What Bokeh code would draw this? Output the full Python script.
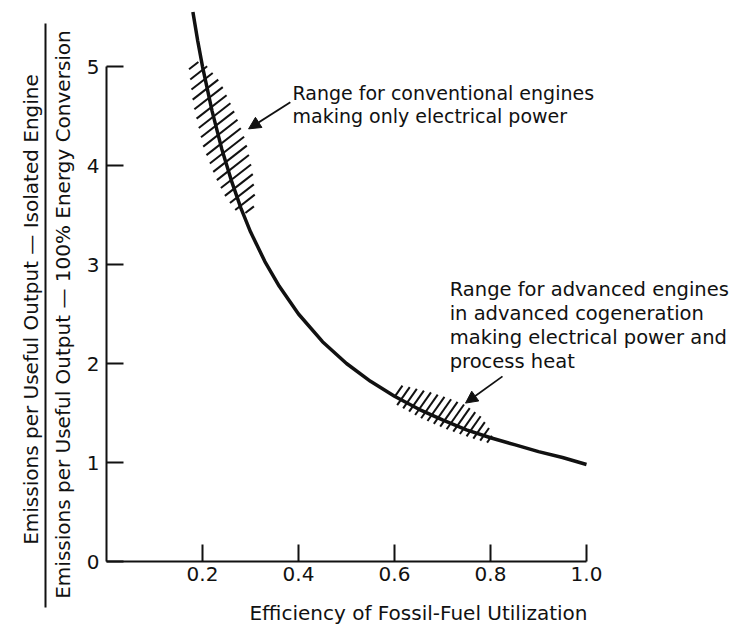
import numpy as np
from math import radians, sin, cos, pi
from bokeh.plotting import figure
from bokeh.layouts import row
from bokeh.models import Range1d, FixedTicker, NumeralTickFormatter, Arrow, NormalHead
from bokeh.core.properties import value
from bokeh.embed import file_html
from bokeh.resources import INLINE

# ---- data ----
curve_x = [0.18, 0.19, 0.20, 0.22, 0.24, 0.26, 0.28, 0.30, 0.33, 0.36, 0.40, 0.45,
           0.50, 0.55, 0.60, 0.65, 0.70, 0.75, 0.80, 0.85, 0.90, 0.95, 1.00]
curve_y = [5.55, 5.26, 5.00, 4.55, 4.17, 3.85, 3.57, 3.33, 3.03, 2.78, 2.50, 2.22,
           2.00, 1.82, 1.67, 1.54, 1.43, 1.33, 1.25, 1.18, 1.11, 1.05, 0.98]

# hatched band: conventional engines (polygon outline)
conv_x = [0.171, 0.181, 0.202, 0.227, 0.248, 0.273, 0.304, 0.310, 0.304, 0.290, 0.265, 0.2375, 0.200]
conv_y = [5.01, 4.61, 4.18, 3.88, 3.68, 3.52, 3.52, 3.65, 3.95, 4.25, 4.56, 4.84, 5.06]

# hatched band: advanced cogeneration (polygon outline)
adv_x = [0.602, 0.633, 0.675, 0.7125, 0.748, 0.779, 0.804, 0.800, 0.758, 0.706, 0.654, 0.602]
adv_y = [1.79, 1.76, 1.71, 1.65, 1.58, 1.47, 1.30, 1.19, 1.25, 1.34, 1.45, 1.59]

x_ticks = [0.2, 0.4, 0.6, 0.8, 1.0]
y_ticks = [0, 1, 2, 3, 4, 5]

note_conv = "Range for conventional engines\nmaking only electrical power"
note_adv = ("Range for advanced engines\nin advanced cogeneration\n"
            "making electrical power and\nprocess heat")
x_title = "Efficiency of Fossil-Fuel Utilization"
y_num = "Emissions per Useful Output \u2014 Isolated Engine"
y_den = "Emissions per Useful Output \u2014 100% Energy Conversion"

FONT = "DejaVu Sans"
INK = "#111111"

# ---- layout ----
LEFT_W = 78
X_END, Y_END = 1.30, 5.586
FW, FH = 624, 553
SX, SY = FW / X_END, FH / Y_END


def hatch(px_list, py_list, angle_deg, spacing):
    th = radians(angle_deg)
    px = np.array(px_list) * SX
    py = np.array(py_list) * SY
    u = -px * sin(th) + py * cos(th)
    v = px * cos(th) + py * sin(th)
    n = len(px)
    x0s, y0s, x1s, y1s = [], [], [], []
    for L in np.arange(u.min() + spacing / 2, u.max(), spacing):
        vs = []
        for i in range(n):
            j = (i + 1) % n
            if (u[i] - L) * (u[j] - L) < 0:
                t = (L - u[i]) / (u[j] - u[i])
                vs.append(v[i] + t * (v[j] - v[i]))
        vs.sort()
        for k in range(0, len(vs) - 1, 2):
            for vv, xs, ys in ((vs[k], x0s, y0s), (vs[k + 1], x1s, y1s)):
                xs.append((vv * cos(th) - L * sin(th)) / SX)
                ys.append((vv * sin(th) + L * cos(th)) / SY)
    return x0s, y0s, x1s, y1s


p = figure(frame_width=FW, frame_height=FH,
           x_range=Range1d(0, X_END), y_range=Range1d(0, Y_END),
           output_backend="svg", toolbar_location=None,
           min_border_left=106 - LEFT_W, min_border_right=5, min_border_top=8, min_border_bottom=0)
p.frame_align = False
p.grid.visible = False
p.outline_line_color = None

for ax in (p.xaxis[0], p.yaxis[0]):
    ax.axis_line_width = 2
    ax.axis_line_color = INK
    ax.major_tick_in = 17
    ax.major_tick_out = 0
    ax.major_tick_line_width = 2
    ax.major_tick_line_color = INK
    ax.minor_tick_line_color = None
    ax.major_label_text_font = FONT
    ax.major_label_text_font_size = "20px"
    ax.major_label_text_color = INK

p.xaxis.ticker = FixedTicker(ticks=x_ticks)
p.xaxis.formatter = NumeralTickFormatter(format="0.0")
p.xaxis.bounds = (0, 1.0)
p.xaxis.major_label_standoff = 5
p.xaxis.axis_label = x_title
p.xaxis.axis_label_text_font = FONT
p.xaxis.axis_label_text_font_size = "20px"
p.xaxis.axis_label_text_font_style = "normal"
p.xaxis.axis_label_text_color = INK
p.xaxis.axis_label_standoff = 17

p.yaxis.ticker = FixedTicker(ticks=y_ticks)
p.yaxis.bounds = (0, 5)
p.yaxis.major_label_standoff = 7

# hatching
for (hx, hy, ang, sp) in ((conv_x, conv_y, 38, 8.7), (adv_x, adv_y, 55, 6.8)):
    x0, y0, x1, y1 = hatch(hx, hy, ang, sp)
    p.segment(x0=x0, y0=y0, x1=x1, y1=y1, line_color=INK, line_width=2)

# curve
p.line(curve_x, curve_y, line_color=INK, line_width=3.5)

# notes
p.text(x=[0.3875], y=[4.84], text=[note_conv], text_font=value(FONT), text_font_size="19px",
       text_align="left", text_baseline="top", text_color=INK, text_line_height=1.04)
p.text(x=[0.715], y=[2.86], text=[note_adv], text_font=value(FONT), text_font_size="19.5px",
       text_align="left", text_baseline="top", text_color=INK, text_line_height=1.04)

for (xs, ys, xe, ye) in ((0.383, 4.64, 0.296, 4.37), (0.825, 1.87, 0.748, 1.60)):
    p.add_layout(Arrow(end=NormalHead(size=12, fill_color=INK, line_color=INK),
                       x_start=xs, y_start=ys, x_end=xe, y_end=ye,
                       line_color=INK, line_width=1.8))

# left panel holding the fractional y-axis title (coordinates = page pixels)
H_LEFT = 620
left = figure(width=LEFT_W, height=H_LEFT, x_range=Range1d(0, LEFT_W), y_range=Range1d(H_LEFT, 0),
              output_backend="svg", toolbar_location=None, min_border=0)
left.frame_align = False
left.axis.visible = False
left.grid.visible = False
left.outline_line_color = None
left.text(x=[30, 62], y=[H_LEFT - 311, H_LEFT - 306], text=[y_num, y_den], angle=pi / 2,
          text_font=value(FONT), text_font_size="20px", text_align="center",
          text_baseline="middle", text_color=INK)
left.segment(x0=[45], y0=[H_LEFT - 597], x1=[45], y1=[H_LEFT - 13], line_color=INK, line_width=2)

layout = row(left, p)
open("out.html", "w").write(file_html(layout, INLINE))
